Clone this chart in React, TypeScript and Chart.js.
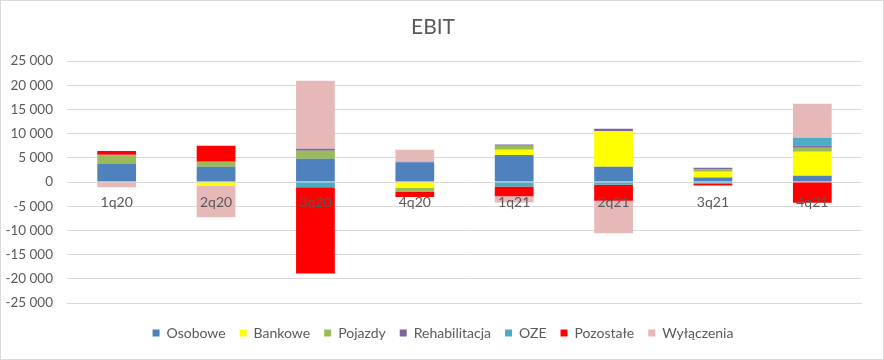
import React, { useEffect, useRef } from "react";
import { Chart, registerables } from "chart.js";

Chart.register(...registerables);

const categories = ["1q20", "2q20", "3q20", "4q20", "1q21", "2q21", "3q21", "4q21"];
const osobowe = [3800, 3150, 4800, 4100, 5600, 3150, 950, 1300];
const bankowe = [0, -700, 0, -1200, 1050, 7350, 1150, 4950];
const pojazdy = [1650, 1050, 1650, -850, 850, 0, 500, 850];
const rehabilitacja = [200, 0, 400, 100, 250, 500, 350, 400];
const oze = [0, 0, -1100, 0, -950, -550, -400, 1650];
const pozostale = [750, 3300, -17800, -1050, -2000, -3300, -300, -4300];
const wylaczenia = [-1100, -6600, 14050, 2450, -1300, -6750, 0, 7000];

const yTicks = { min: -25000, max: 25000, step: 5000 };

const seriesNames = ["Osobowe", "Bankowe", "Pojazdy", "Rehabilitacja", "OZE", "Pozostałe", "Wyłączenia"];
const seriesData = [osobowe, bankowe, pojazdy, rehabilitacja, oze, pozostale, wylaczenia];
const seriesColors = ["#4F81BD", "#FFFF00", "#9BBB59", "#8064A2", "#4BACC6", "#FF0000", "#E6B9B8"];

const FONT = "Lato, 'Open Sans', sans-serif";
const TEXT = "#595959";

function fmt(v: number): string {
  const s = Math.abs(v).toString().replace(/\B(?=(\d{3})+(?!\d))/g, " ");
  return (v < 0 ? "-" : "") + s;
}

const shiftLegend = {
  id: "shiftLegend",
  afterLayout(chart: any) {
    const lg = chart.legend;
    if (lg) {
      lg.left += 10;
      lg.right += 10;
    }
  },
};

export default function App() {
  const ref = useRef<HTMLCanvasElement | null>(null);

  useEffect(() => {
    if (!ref.current) return;
    const chart = new Chart(ref.current, {
      type: "bar",
      data: {
        labels: categories,
        datasets: seriesNames.map((name, i) => ({
          label: name,
          data: seriesData[i],
          backgroundColor: seriesColors[i],
          borderWidth: 0,
          categoryPercentage: 1,
          barPercentage: 0.39,
        })),
      },
      plugins: [shiftLegend],
      options: {
        responsive: false,
        animation: false,
        layout: { padding: { left: 4, right: 22, top: 0, bottom: 10 } },
        plugins: {
          title: {
            display: true,
            text: "EBIT",
            color: TEXT,
            font: { family: FONT, size: 21, weight: "normal", lineHeight: 1.2 },
            padding: { top: 14.4, bottom: 21.4 },
          },
          legend: {
            position: "bottom",
            title: {
              display: true,
              text: "",
              color: "rgba(0,0,0,0)",
              font: { size: 9, lineHeight: 1 },
              padding: 0,
            },
            labels: {
              color: TEXT,
              font: { family: FONT, size: 14 },
              boxWidth: 7,
              boxHeight: 7,
              padding: 14,
            },
          },
          tooltip: { enabled: false },
        },
        scales: {
          x: {
            stacked: true,
            position: { y: 0 } as any,
            z: 1,
            grid: { display: false, drawTicks: false },
            border: { display: false },
            ticks: {
              z: 1,
              autoSkip: false,
              color: TEXT,
              font: { family: FONT, size: 14 },
              padding: 12,
            },
          },
          y: {
            stacked: true,
            min: yTicks.min,
            max: yTicks.max,
            afterFit: (s: any) => {
              s.width = 63;
            },
            grid: { color: "#D9D9D9", drawTicks: false },
            border: { display: false },
            ticks: {
              stepSize: yTicks.step,
              color: TEXT,
              font: { family: FONT, size: 13.5 },
              padding: 14,
              callback: (v: any) => fmt(Number(v)),
            },
          },
        },
      },
    });
    return () => chart.destroy();
  }, []);

  return (
    <div style={{ position: "absolute", left: 0, top: 0, width: 884, height: 360, background: "#fff" }}>
      <canvas ref={ref} width={884} height={360} style={{ display: "block" }} />
      <div
        style={{
          position: "absolute",
          left: 0,
          top: 0,
          width: 884,
          height: 360,
          boxSizing: "border-box",
          border: "1px solid #D9D9D9",
          pointerEvents: "none",
        }}
      />
    </div>
  );
}
